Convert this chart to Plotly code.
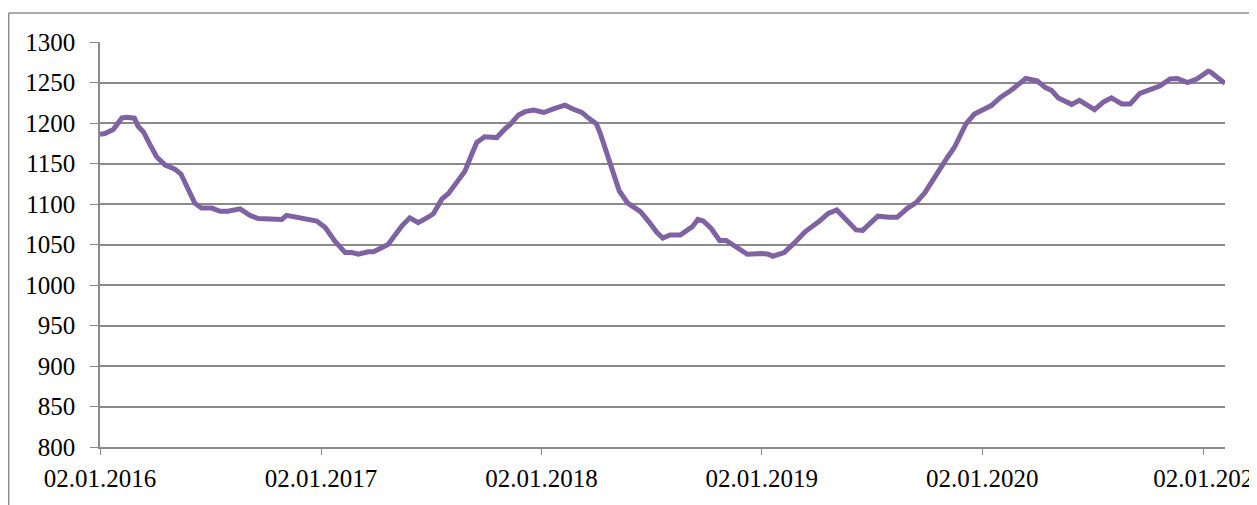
import plotly.graph_objects as go

# ---- data ----
dates = [
    "2016-01-02", "2016-01-10", "2016-01-24", "2016-02-07", "2016-02-15", "2016-02-28",
    "2016-03-05", "2016-03-14", "2016-03-25", "2016-04-05", "2016-04-19", "2016-05-05",
    "2016-05-15", "2016-05-25", "2016-06-07", "2016-06-18", "2016-07-05", "2016-07-19",
    "2016-08-01", "2016-08-21", "2016-09-06", "2016-09-20", "2016-10-07", "2016-10-29",
    "2016-11-06", "2016-11-25", "2016-12-12", "2016-12-26", "2017-01-09", "2017-01-25",
    "2017-02-11", "2017-02-22", "2017-03-05", "2017-03-21", "2017-03-30", "2017-04-10",
    "2017-04-23", "2017-05-05", "2017-05-16", "2017-05-29", "2017-06-12", "2017-06-29",
    "2017-07-07", "2017-07-21", "2017-08-01", "2017-08-15", "2017-08-28", "2017-09-09",
    "2017-09-17", "2017-09-30", "2017-10-20", "2017-11-03", "2017-11-11", "2017-11-25",
    "2017-12-06", "2017-12-20", "2018-01-06", "2018-01-24", "2018-02-10", "2018-02-24",
    "2018-03-10", "2018-03-21", "2018-04-03", "2018-04-09", "2018-04-26", "2018-05-11",
    "2018-05-25", "2018-06-15", "2018-06-29", "2018-07-12", "2018-07-22", "2018-08-03",
    "2018-08-20", "2018-08-31", "2018-09-09", "2018-09-18", "2018-09-27", "2018-10-10",
    "2018-10-24", "2018-11-04", "2018-11-20", "2018-12-09", "2019-01-02", "2019-01-13",
    "2019-01-20", "2019-02-08", "2019-02-25", "2019-03-15", "2019-04-06", "2019-04-22",
    "2019-05-06", "2019-05-16", "2019-05-27", "2019-06-07", "2019-06-18", "2019-06-29",
    "2019-07-13", "2019-08-01", "2019-08-14", "2019-08-31", "2019-09-15", "2019-09-29",
    "2019-10-12", "2019-10-23", "2019-11-06", "2019-11-17", "2019-12-06", "2019-12-20",
    "2020-01-03", "2020-01-17", "2020-02-01", "2020-02-08", "2020-02-20", "2020-03-14",
    "2020-04-02", "2020-04-15", "2020-04-26", "2020-05-07", "2020-05-29", "2020-06-11",
    "2020-06-21", "2020-07-06", "2020-07-21", "2020-08-03", "2020-08-20", "2020-09-03",
    "2020-09-19", "2020-10-06", "2020-10-22", "2020-11-08", "2020-11-20", "2020-12-07",
    "2020-12-23", "2021-01-10", "2021-01-14", "2021-02-07",
]
values = [
    1186, 1187, 1192, 1206, 1207, 1206,
    1196, 1189, 1173, 1158, 1148, 1143,
    1137, 1121, 1101, 1095, 1095, 1091,
    1091, 1094, 1086, 1082, 1081, 1081,
    1086, 1083, 1080, 1079, 1071, 1054,
    1040, 1040, 1038, 1041, 1041, 1045,
    1050, 1062, 1073, 1083, 1077, 1084,
    1088, 1106, 1113, 1127, 1140, 1162,
    1176, 1183, 1182, 1193, 1198, 1210,
    1214, 1216, 1213, 1218, 1222, 1217,
    1213, 1206, 1199, 1188, 1150, 1116,
    1101, 1090.5, 1078, 1065, 1058, 1061.7,
    1061.7, 1068, 1072, 1081, 1079, 1070,
    1055, 1055, 1048, 1038, 1039, 1038,
    1035.5, 1040, 1052, 1066, 1078, 1088.5,
    1092.6, 1085, 1076, 1068, 1067.5, 1076,
    1085, 1083.5, 1083.5, 1094.7, 1102, 1114,
    1129.6, 1143, 1158.4, 1170, 1199, 1211,
    1216, 1221.5, 1231.5, 1235, 1241, 1255,
    1252, 1244, 1240, 1231, 1223, 1228,
    1223.5, 1216.5, 1226, 1231, 1223.5, 1223.5,
    1236.5, 1242, 1245.5, 1254.5, 1255, 1250,
    1254.5, 1264, 1263, 1249,
]
x_tick_dates = ["2016-01-02", "2017-01-02", "2018-01-02", "2019-01-02", "2020-01-02", "2021-01-02"]
# the last label is shown truncated at the frame edge in the reference
x_tick_labels = ["02.01.2016", "02.01.2017", "02.01.2018", "02.01.2019", "02.01.2020", "02.01.202"]
y_tick_values = [800, 850, 900, 950, 1000, 1050, 1100, 1150, 1200, 1250, 1300]
y_tick_labels = ["800", "850", "900", "950", "1000", "1050", "1100", "1150", "1200", "1250", "1300"]

LINE_COLOR = "#7E62A1"
GRID_COLOR = "#8A8A8A"
FONT = dict(family="Liberation Serif", size=25, color="#000000")

fig = go.Figure()
fig.add_trace(go.Scatter(
    x=dates, y=values, mode="lines",
    line=dict(color=LINE_COLOR, width=5),
    showlegend=False, hoverinfo="x+y",
))

# the page has an 8px body margin, so the figure is 8px smaller than the window
fig.update_layout(
    template="none",
    width=1249, height=497,
    margin=dict(l=92, r=32, t=34, b=58, pad=0),
    paper_bgcolor="white", plot_bgcolor="white",
    font=FONT,
    showlegend=False,
    xaxis=dict(
        type="date",
        range=["2016-01-02", "2021-02-07"],
        tickmode="array", tickvals=x_tick_dates, ticktext=x_tick_labels,
        ticks="outside", ticklen=6, tickwidth=1.3, tickcolor=GRID_COLOR,
        showline=True, linecolor=GRID_COLOR, linewidth=1.5,
        showgrid=False, zeroline=False, automargin=False,
        tickfont=FONT, tickangle=0, ticklabeloverflow="allow",
        ticklabelstandoff=2,
    ),
    yaxis=dict(
        range=[800, 1300],
        tickmode="array", tickvals=y_tick_values, ticktext=y_tick_labels,
        ticks="outside", ticklen=8, tickwidth=1.3, tickcolor=GRID_COLOR,
        showline=True, linecolor=GRID_COLOR, linewidth=1.5,
        showgrid=True, gridcolor=GRID_COLOR, gridwidth=1.5,
        zeroline=False, automargin=False,
        tickfont=FONT, ticklabelstandoff=10, ticklabeloverflow="allow",
    ),
)

# page-like frame around the chart
px = lambda v: (v - 100) / 1125.0   # page pixel -> paper x
py = lambda v: (447 - v) / 405.0    # page pixel -> paper y
border = dict(color="#8C8C8C", width=1.5)
fig.add_shape(type="line", xref="paper", yref="paper", x0=px(8.7), x1=px(8.7), y0=py(13), y1=py(520), line=border, layer="above")
fig.add_shape(type="line", xref="paper", yref="paper", x0=px(8.7), x1=px(1254), y0=py(13), y1=py(13), line=border, layer="above")
fig.add_shape(type="line", xref="paper", yref="paper", x0=px(1254), x1=px(1254), y0=py(13), y1=py(520), line=border, layer="above")

fig.write_html("out.html")
